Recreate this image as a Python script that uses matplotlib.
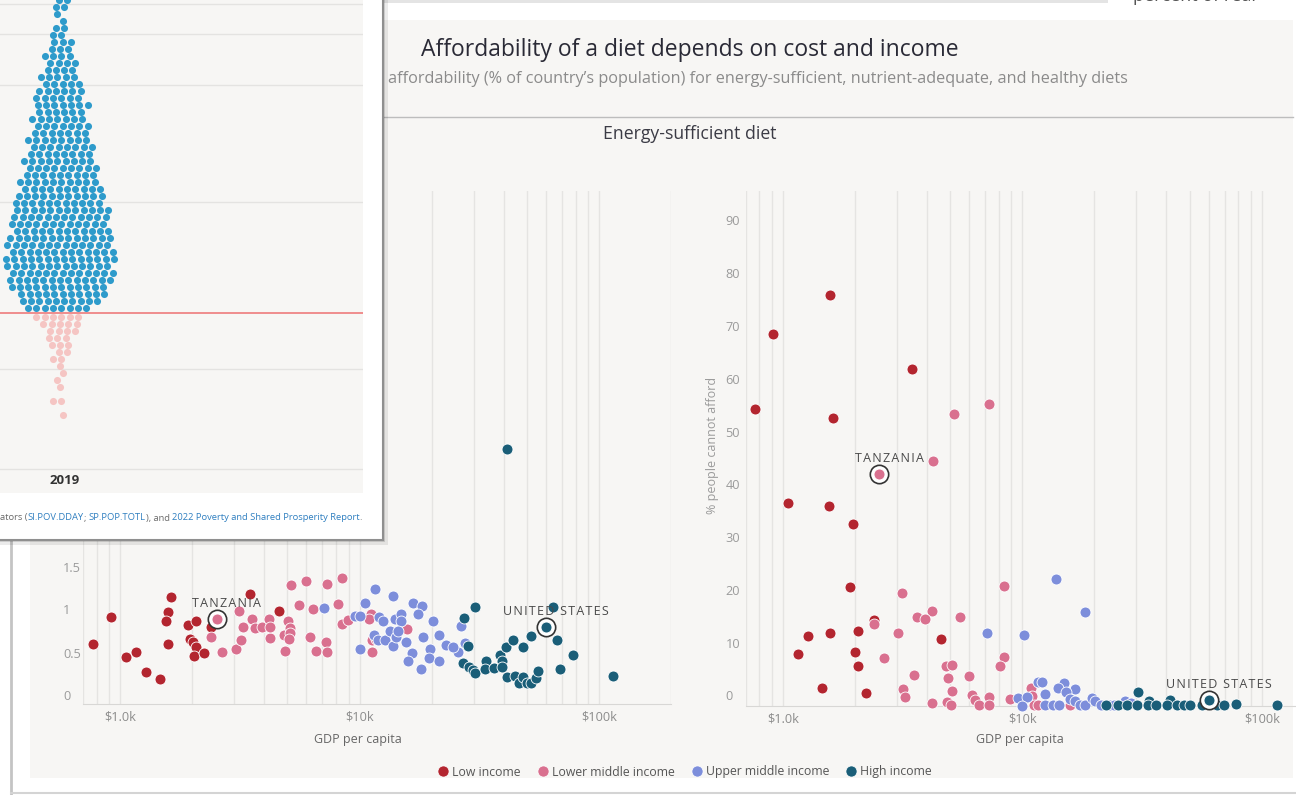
import numpy as np
import matplotlib
matplotlib.use("Agg")
import matplotlib.pyplot as plt
from matplotlib.lines import Line2D
from matplotlib.patches import Rectangle
from matplotlib.ticker import FixedLocator, LogLocator, NullFormatter

plt.rcParams['font.family'] = ['Open Sans', 'DejaVu Sans']

# ---------------- data: energy-sufficient diet ----------------
groups = ['Low income', 'Lower middle income', 'Upper middle income', 'High income']
colors = ['#b3252f', '#d9708f', '#7d8edb', '#1a5e78']

# left panel: cost of the diet vs GDP per capita
low_cost_gdp = [772, 916, 1062, 1164, 1285, 1466, 1632, 1588, 1562, 1588, 1914, 2073, 1968, 2016,
                2073, 2040, 2245, 2403, 3479, 4598]
low_cost = [0.70, 1.01, 0.55, 0.60, 0.37, 0.29, 1.24, 1.07, 0.96, 0.70, 0.92, 0.97, 0.76, 0.72,
            0.66, 0.56, 0.59, 0.89, 1.28, 1.08]
lmi_cost_gdp = [2403, 2665, 3051, 3188, 3150, 3252, 3549, 3650, 3922, 4197, 4213, 4246, 4882, 4843,
                5040, 5121, 5142, 5086, 5183, 5983, 7301, 8425, 5568, 6402, 8096, 6201, 6607, 7242,
                7301, 8425, 8946, 11140, 10960, 11270, 11310, 11730, 15810]
lmi_cost = [0.78, 0.60, 0.64, 0.75, 1.08, 0.90, 0.99, 0.88, 0.89, 0.99, 0.77, 0.89, 0.62, 0.80,
            0.97, 0.88, 0.82, 0.76, 1.38, 1.43, 1.40, 1.47, 1.15, 1.11, 1.16, 0.78, 0.62, 0.72,
            0.60, 0.93, 0.98, 1.05, 0.99, 0.60, 0.74, 0.76, 0.87]
umi_cost_gdp = [7127, 10530, 11590, 13810, 16780, 18320, 9610, 10040, 12060, 12550, 14030, 14840,
                14950, 17470, 20320, 11500, 11960, 12800, 13380, 13750, 14140, 14480, 15690, 10000,
                16580, 18390, 19760, 21400, 15940, 18100, 19530, 21480, 26540, 27620, 25700, 23080, 24500]
umi_cost = [1.12, 1.17, 1.34, 1.26, 1.18, 1.14, 1.02, 1.02, 1.01, 0.96, 0.99, 1.05, 0.96, 1.05,
            0.97, 0.80, 0.74, 0.74, 0.85, 0.68, 0.78, 0.85, 0.72, 0.64, 0.59, 0.78, 0.64, 0.80,
            0.50, 0.41, 0.54, 0.50, 0.91, 0.71, 0.60, 0.69, 0.66]
hi_cost_gdp = [41400, 30500, 27290, 28510, 27070, 28740, 29910, 30270, 33710, 33440, 36500, 38440,
               39210, 39530, 40810, 43650, 48240, 52240, 41140, 44560, 46370, 48240, 50230, 52240,
               54810, 55910, 64270, 66880, 69040, 77800, 115000]
hi_cost = [2.97, 1.13, 1.00, 0.67, 0.48, 0.43, 0.40, 0.36, 0.50, 0.41, 0.42, 0.57, 0.50, 0.43,
           0.66, 0.74, 0.66, 0.79, 0.31, 0.32, 0.24, 0.31, 0.25, 0.24, 0.30, 0.38, 1.13, 0.74,
           0.41, 0.57, 0.33]

# right panel: % of people who cannot afford the diet
low_afford_gdp = [769, 910, 1574, 1621, 3472, 1053, 1557, 1961, 1911, 2407, 1273, 1574, 2064, 1153,
                  2012, 2064, 4585, 1458, 2238]
low_afford = [56.2, 70.4, 77.9, 54.5, 63.8, 38.5, 37.9, 34.5, 22.5, 16.3, 13.3, 13.9, 14.2, 9.8,
              10.2, 7.5, 12.7, 3.5, 2.4]
lmi_afford_gdp = [4230, 5173, 7272, 3146, 8387, 4200, 3640, 3932, 5525, 2399, 3032, 2658, 8387, 4790,
                  5099, 8085, 3549, 4898, 5989, 3192, 3238, 5099, 4215, 4862, 5062, 6145, 6374, 6612,
                  7245, 7272, 8926, 10920, 11040, 11200, 11620, 15860]
lmi_afford = [46.5, 55.4, 57.3, 21.5, 22.8, 18.0, 16.8, 16.4, 16.9, 15.6, 13.9, 9.0, 9.3, 7.5,
              7.7, 7.5, 5.8, 5.3, 5.7, 3.3, 1.7, 2.9, 0.5, 0.8, 0.2, 2.1, 1.2, 0.2,
              1.7, 0.1, 1.3, 3.4, 1.9, 0.2, 0.1, 0.1]
umi_afford_gdp = [13850, 18300, 7140, 10150, 11620, 12050, 14910, 14110, 16570, 12500, 15290, 9605,
                  10490, 15860, 16630, 10000, 12500, 13450, 14210, 17380, 18360, 19610, 20120, 21410,
                  23290, 24160, 26970, 28490]
umi_afford = [24.0, 17.9, 13.9, 13.4, 4.6, 4.6, 4.3, 3.5, 3.2, 2.2, 2.6, 1.5, 1.7, 1.4, 0.9, 0.0,
              0.2, 0.1, 0.1, 0.1, 0.1, 1.6, 0.9, 0.2, 0.2, 0.1, 0.9, 0.5]
hi_afford_gdp = [30540, 33720, 41530, 22460, 25060, 27470, 30100, 33590, 36140, 40340, 44210, 47570,
                 50250, 56090, 64920, 69340, 77980, 115300]
hi_afford = [2.7, 0.9, 1.1, 0.1, 0.1, 0.1, 0.1, 0.1, 0.1, 0.1, 0.1, 0.1, 0.1, 0.1, 0.1, 0.1, 0.3, 0.1]

# highlighted countries: (name, income group index, gdp, cost, % cannot afford)
highlights = [('TANZANIA', 1, 2530, 0.99, 44.0), ('UNITED STATES', 3, 60000, 0.90, 1.2)]

cost_ticks = [0, 0.5, 1, 1.5]          # the higher ones sit under the popup card
afford_ticks = [0, 10, 20, 30, 40, 50, 60, 70, 80, 90]
gdp_ticks = [1e3, 1e4, 1e5]
gdp_labels = [r'\$1.0k', r'\$10k', r'\$100k']

# popup: 2019 distribution, dots per row (rows from the line outwards)
swarm_year = '2019'
above_counts = [8, 10, 11, 12, 13, 13, 13, 14, 13, 13, 13, 12, 12, 12, 12, 11, 11, 10, 10, 9, 9, 9,
                8, 8, 8, 7, 7, 7, 6, 7, 6, 6, 5, 5, 4, 4, 4, 3, 3, 2, 2, 1, 1, 2, 2]
below_counts = [6, 5, 4, 3, 3, 2, 2, 1, 1, 1, 1, 0, 2, 0, 1]
row_step = 1.5
above_start = 34.5
below_start = 32.5
threshold = 33.4
popup_grid = [0, 21.4, 57.2, 82.3, 93.2, 99.75]

BG = '#f7f6f4'
W, H = 1296, 795
fig = plt.figure(figsize=(W / 100, H / 100), dpi=100)
fig.patch.set_facecolor('white')


def fx(x):
    return x / W


def fy(y):
    return 1 - y / H


def box(x0, y0, x1, y1, **kw):
    r = Rectangle((fx(x0), fy(y1)), (x1 - x0) / W, (y1 - y0) / H, transform=fig.transFigure, lw=0, **kw)
    fig.add_artist(r)
    return r


def hline(x0, x1, y, **kw):
    fig.add_artist(Line2D([fx(x0), fx(x1)], [fy(y), fy(y)], transform=fig.transFigure, **kw))


# page furniture behind the chart
box(30, 20, 1293, 778, color=BG, zorder=-10)
box(383, 0, 1108, 3, color='#e4e4e4', zorder=-9)
fig.add_artist(Line2D([fx(11), fx(11)], [fy(540), 0], transform=fig.transFigure, color='#c4c4c4', lw=2))
hline(11, 1296, 793, color='#d4d4d4', lw=1.5)
fig.text(fx(1133), fy(-4), 'percent of real', ha='left', va='center', fontsize=13, color='#555555')

title = fig.text(fx(690), fy(50), 'Affordability of a diet depends on cost and income',
                 ha='center', va='center', fontsize=15, color='#2a2a36', fontweight='medium')
subtitle = fig.text(fx(1128), fy(79), 'affordability (% of country\u2019s population) for energy-sufficient, '
                    'nutrient-adequate, and healthy diets', ha='right', va='center', fontsize=11, color='#8b8b8b')
hline(30, 1293, 117, color='#bdbdbd', lw=1)
panel_title = fig.text(fx(690), fy(134), 'Energy-sufficient diet', ha='center', va='center',
                       fontsize=11, color='#3b3b45')

renderer = fig.canvas.get_renderer()


def fit(t, width):
    w = t.get_window_extent(renderer).width
    t.set_fontsize(t.get_fontsize() * width / w)


fit(title, 536)
fit(subtitle, 745)
fit(panel_title, 174)


def panel(rect, ytop, yticks, dy):
    ax = fig.add_axes(rect)
    ax.set_facecolor('none')
    ax.set_xscale('log')
    ax.set_xlim(700, 200000)
    ax.set_ylim(0, ytop)
    ax.xaxis.set_major_locator(FixedLocator(gdp_ticks))
    ax.set_xticklabels(gdp_labels)
    ax.xaxis.set_minor_locator(LogLocator(base=10, subs=np.arange(2, 10), numticks=30))
    ax.xaxis.set_minor_formatter(NullFormatter())
    ax.grid(True, which='both', axis='x', color='#e5e4e2', lw=1)
    ax.set_axisbelow(True)
    ax.tick_params(axis='x', which='both', length=0, pad=5, labelsize=9.2, labelcolor='#8c8c8c')
    ax.set_yticks([])
    for s in ['top', 'right', 'left']:
        ax.spines[s].set_visible(False)
    ax.spines['bottom'].set_color('#d8d7d5')
    for v in yticks:
        ax.annotate(f'{v:g}', xy=(0, v), xycoords=('axes fraction', 'data'), xytext=(-20, dy),
                    textcoords='offset pixels', ha='left', va='center', fontsize=9.2,
                    color='#9b9b9b', annotation_clip=False)
    return ax


ax_l = panel([fx(83), fy(704), 588 / W, 513 / H], 513 / 86, cost_ticks, 7)
ax_r = panel([fx(745.6), fy(706), 588.2 / W, 515 / H], 515 / 5.278, afford_ticks, 9)

left_sets = [(low_cost_gdp, low_cost), (lmi_cost_gdp, lmi_cost), (umi_cost_gdp, umi_cost), (hi_cost_gdp, hi_cost)]
right_sets = [(low_afford_gdp, low_afford), (lmi_afford_gdp, lmi_afford),
              (umi_afford_gdp, umi_afford), (hi_afford_gdp, hi_afford)]

for ax, sets, col in [(ax_l, left_sets, 3), (ax_r, right_sets, 4)]:
    for (gx, gy), c in zip(sets, colors):
        ax.scatter(gx, gy, s=62, color=c, edgecolors='white', linewidths=0.6, zorder=3, clip_on=False)
    for h in highlights:
        x, y, c = h[2], h[col], colors[h[1]]
        ax.scatter([x], [y], s=175, facecolor='white', edgecolors='#333333', linewidths=1.2, zorder=4, clip_on=False)
        ax.scatter([x], [y], s=62, color=c, edgecolors='white', linewidths=0.6, zorder=5, clip_on=False)
        ax.annotate('\u200a'.join(h[0]), xy=(x, y), xytext=(10, 15), textcoords='offset pixels', ha='center',
                    va='center', fontsize=9, color='#4a4a4a', zorder=6)

fig.text(fx(358), fy(740), 'GDP per capita', ha='center', va='center', fontsize=9, color='#666666')
fig.text(fx(1020), fy(740), 'GDP per capita', ha='center', va='center', fontsize=9, color='#666666')
fig.text(fx(713), fy(445), '% people cannot afford', rotation=90, ha='center', va='center',
         fontsize=9, color='#9b9b9b')

handles = [Line2D([], [], ls='none', marker='o', ms=8, mfc=c, mec='white', mew=0.5) for c in colors]
fig.legend(handles, groups, loc='center', bbox_to_anchor=(fx(684), fy(772)), ncol=4, frameon=False,
           fontsize=8.8, labelcolor='#555555', handletextpad=0.15, columnspacing=1.2, handlelength=1.2)

# ---------------- popup card with the 2019 swarm ----------------
box(0, 0, 388, 545, color='black', alpha=0.08, zorder=4.8)
box(0, 0, 385, 542, color='black', alpha=0.12, zorder=4.9)
card = fig.add_axes([0, fy(540), 383 / W, 540 / H], zorder=5)
card.set_xlim(0, 383)
card.set_ylim(540, 0)
card.set_facecolor('white')
card.set_xticks([])
card.set_yticks([])
for s in ['top', 'left']:
    card.spines[s].set_visible(False)
for s in ['right', 'bottom']:
    card.spines[s].set_color('#8f8f8f')
    card.spines[s].set_linewidth(1.5)

pop = fig.add_axes([0, fy(493), 363 / W, 493 / H], zorder=6)
pop.set_facecolor(BG)
pop.set_xlim(0, 363)
pop.set_ylim(-5.14, 100.5)
pop.set_xticks([])
pop.set_yticks([])
for s in pop.spines.values():
    s.set_visible(False)
for g in popup_grid:
    pop.axhline(g, color='#e4e3e1', lw=1, zorder=1)
pop.axhline(threshold, color='#ef8585', lw=1.3, zorder=1.5)


def swarm(counts, start, step, center=60, gap=8.3):
    # lay the dots of each row side by side, staggering rows so they pack
    xs, ys = [], []
    for i, n in enumerate(counts):
        shift = ((i % 3) - 1) * gap / 3
        for k in range(n):
            xs.append(center + (k - (n - 1) / 2) * gap + shift)
            ys.append(start + i * step)
    return xs, ys


bx, by = swarm(above_counts, above_start, row_step)
px_, py_ = swarm(below_counts, below_start, -row_step)
pop.scatter(bx, by, s=26, color='#2e9bcb', linewidths=0, zorder=3)
pop.scatter(px_, py_, s=26, color='#f5c5c3', linewidths=0, zorder=3)
pop.text(65, -2.36, swarm_year, ha='center', va='center', fontsize=9.5, fontweight='bold', color='#333333')

gray, blue = '#6a6a6a', '#2f7fc0'
pieces = [('Source: World Development Indicators (', gray), ('SI.POV.DDAY', blue), ('; ', gray),
          ('SP.POP.TOTL', blue), ('), and ', gray), ('2022 Poverty and Shared Prosperity Report', blue), ('.', gray)]
t = card.text(362, 518, pieces[-1][0], ha='right', va='center', fontsize=6.75, color=pieces[-1][1])
for s, c in reversed(pieces[:-1]):
    t = card.annotate(s, xy=(0, 0), xycoords=t, ha='right', va='bottom', fontsize=6.75, color=c)

fig.savefig('out.png', dpi=100)
